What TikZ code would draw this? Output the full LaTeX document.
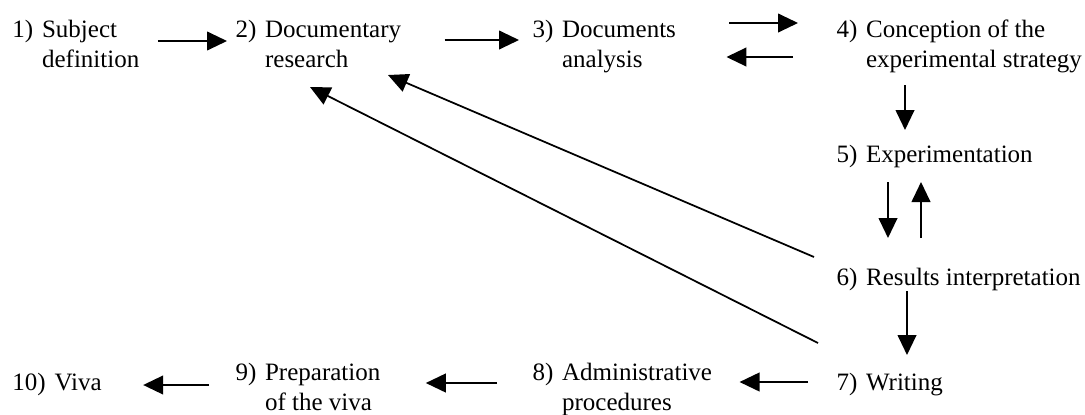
\documentclass[tikz,border=0pt]{standalone}
\usepackage{fontspec}
\setmainfont{Liberation Serif}
\usepackage{tikz}
\usetikzlibrary{arrows.meta}
\newcommand{\stage}[2]{\begin{tabular}[t]{@{}l@{\hspace{3.5pt}}l@{}}#1&\begin{tabular}[t]{@{}l@{}}#2\end{tabular}\end{tabular}}

\begin{document}
\begin{tikzpicture}[x=0.4pt, y=-0.4pt, line join = round,
    flow/.style={line width=0.7pt, -{Triangle[length=8pt,width=7.5pt]}},
    stagenode/.style={inner sep=0pt, anchor=base west, font=\fontsize{10}{12}\selectfont}]

                        \useasboundingbox (0,0) rectangle (1085,414);

                        % top row
                        \node[stagenode] (s1) at (12,37) {\stage{1)}{Subject\\definition}};
                        \node[stagenode] (s2) at (235,37) {\stage{2)}{Documentary\\research}};
                        \node[stagenode] (s3) at (532,37) {\stage{3)}{Documents\\analysis}};
                        \node[stagenode] (s4) at (836,37) {\stage{4)}{Conception of the\\experimental strategy}};
                        % right column
                        \node[stagenode] (s5) at (836,162) {\stage{5)}{Experimentation}};
                        \node[stagenode] (s6) at (836,285) {\stage{6)}{Results interpretation}};
                        \node[stagenode] (s7) at (836,390) {\stage{7)}{Writing}};
                        % bottom row
                        \node[stagenode] (s8) at (532,380) {\stage{8)}{Administrative\\procedures}};
                        \node[stagenode] (s9) at (235,380) {\stage{9)}{Preparation\\of the viva}};
                        \node[stagenode] (s10) at (12,390) {\stage{10)}{Viva}};

                        % top row arrows
                        \draw[flow] ([shift={(18,4)}]s1.base east) -- ([shift={(-8,4)}]s2.base west);
                        \draw[flow] ([shift={(43,3)}]s2.base east) -- ([shift={(-13,3)}]s3.base west);
                        \draw[flow] ([shift={(53,-14)}]s3.base east) -- ([shift={(-38,-14)}]s4.base west);
                        \draw[flow] ([shift={(-43,20)}]s4.base west) -- ([shift={(50,20)}]s3.base east);
                        % right column arrows
                        \draw[flow] ([shift={(69,48)}]s4.base west) -- ([shift={(69,-32)}]s5.base west);
                        \draw[flow] ([shift={(52,20)}]s5.base west) -- ([shift={(52,-47)}]s6.base west);
                        \draw[flow] ([shift={(85,-47)}]s6.base west) -- ([shift={(85,20)}]s5.base west);
                        \draw[flow] ([shift={(71,6)}]s6.base west) -- ([shift={(71,-35)}]s7.base west);
                        % back to documentary research
                        \draw[flow] ([shift={(-22,-28)}]s6.base west) -- ([shift={(153,38)}]s2.base west);
                        \draw[flow] ([shift={(-18,-47)}]s7.base west) -- ([shift={(75,50)}]s2.base west);
                        % bottom row arrows
                        \draw[flow] ([shift={(-28,-8)}]s7.base west) -- ([shift={(27,2)}]s8.base east);
                        \draw[flow] ([shift={(-35,3)}]s8.base west) -- ([shift={(45,3)}]s9.base east);
                        \draw[flow] ([shift={(-26,5)}]s9.base west) -- ([shift={(41,-5)}]s10.base east);

                    \end{tikzpicture}
\end{document}
